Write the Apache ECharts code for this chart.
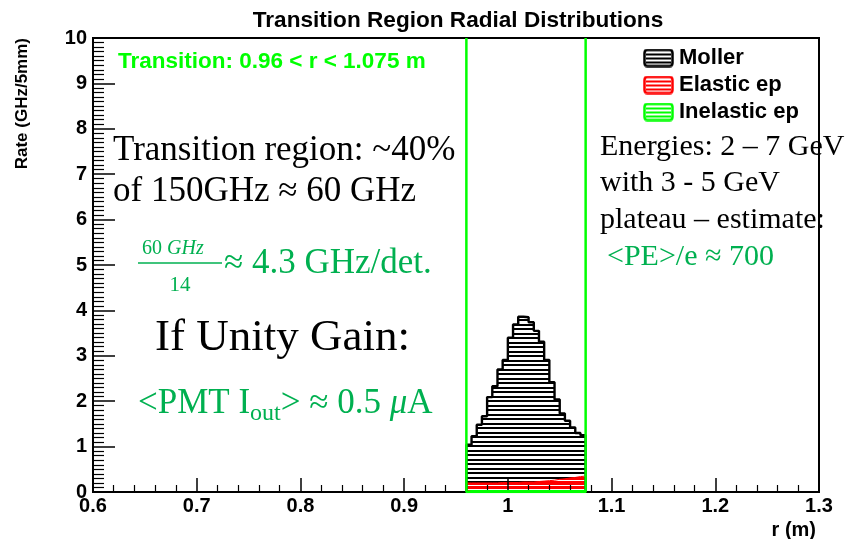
<!DOCTYPE html>
<html><head><meta charset="utf-8">
<script src="https://cdn.jsdelivr.net/npm/echarts@6/dist/echarts.min.js"></script>
<style>html,body{margin:0;padding:0;background:#fff}#c{width:850px;height:539px}</style>
</head><body><div id="c"></div>
<script>
// ---- data ----
const binEdges = [0.960,0.965,0.970,0.975,0.980,0.985,0.990,0.995,1.000,1.005,1.010,1.015,1.020,1.025,1.030,1.035,1.040,1.045,1.050,1.055,1.060,1.065,1.070,1.075];
const mollerRates = [1.04,1.23,1.48,1.67,2.09,2.33,2.70,2.91,3.40,3.69,3.86,3.85,3.74,3.55,3.31,2.91,2.42,2.04,1.73,1.57,1.42,1.30,1.25];
const elasticRates = [0.20,0.20,0.20,0.20,0.20,0.20,0.21,0.21,0.21,0.21,0.22,0.22,0.22,0.23,0.24,0.25,0.26,0.28,0.29,0.31,0.32,0.34,0.35];
const inelasticRates = [0.02,0.02,0.02,0.02,0.02,0.02,0.02,0.02,0.02,0.02,0.02,0.02,0.02,0.02,0.02,0.02,0.02,0.02,0.02,0.02,0.02,0.02,0.02];
const transitionRange = [0.96, 1.075];
const xRange = [0.6, 1.3];
const yRange = [0, 10];
const seriesNames = ['Moller', 'Elastic ep', 'Inelastic ep'];

// ---- helpers ----
function stepData(vals){
  const n = vals.length;
  const d = [[binEdges[0], 0]];
  for (let i = 0; i < n; i++) d.push([binEdges[i], vals[i]]);
  d.push([binEdges[n], vals[n-1]]);
  d.push([binEdges[n], 0]);
  return d;
}
function hatch(color){
  const c = document.createElement('canvas'); c.width = 8; c.height = 9;
  const g = c.getContext('2d'); g.fillStyle = color;
  g.fillRect(0,0,8,2); g.fillRect(0,4,8,2);
  return c;
}
function hatchSolid(color){
  const c = document.createElement('canvas'); c.width = 8; c.height = 9;
  const g = c.getContext('2d');
  g.fillStyle = '#fff'; g.fillRect(0,0,8,9);
  g.fillStyle = color; g.fillRect(0,0,8,3); g.fillRect(0,4,8,4);
  return c;
}
function legendIcon(color){
  const c = document.createElement('canvas'); c.width = 31; c.height = 19;
  const g = c.getContext('2d');
  g.fillStyle = '#fff'; g.fillRect(0,0,31,19);
  g.fillStyle = color;
  g.fillRect(3,5,25,2); g.fillRect(3,9,25,2); g.fillRect(3,13,25,2);
  g.strokeStyle = color; g.lineWidth = 2.5;
  const x=1.5,y=1.5,w=28,h=16,r=3;
  g.beginPath();
  g.moveTo(x+r,y); g.lineTo(x+w-r,y); g.quadraticCurveTo(x+w,y,x+w,y+r);
  g.lineTo(x+w,y+h-r); g.quadraticCurveTo(x+w,y+h,x+w-r,y+h);
  g.lineTo(x+r,y+h); g.quadraticCurveTo(x,y+h,x,y+h-r);
  g.lineTo(x,y+r); g.quadraticCurveTo(x,y,x+r,y); g.closePath(); g.stroke();
  return 'image://' + c.toDataURL();
}
const mctx = document.createElement('canvas').getContext('2d');
function runs(x, y, parts){
  const out = []; let cx = x;
  parts.forEach(p => {
    mctx.font = p.font;
    out.push({type:'text', x: cx, y: y + (p.dy||0), z: 1,
      style:{text:p.t, font:p.font, fill:p.fill||'#000', align:'left', textAlign:'left', verticalAlign:'middle', textVerticalAlign:'middle'}});
    cx += mctx.measureText(p.t).width;
  });
  return out;
}
function txt(t, x, y, font, fill, align){
  return {type:'text', x, y, z:1, style:{text:t, font, fill:fill||'#000', align:align||'left', textAlign:align||'left', verticalAlign:'middle', textVerticalAlign:'middle'}};
}
const SANS = '"Liberation Sans", Arial, sans-serif';
const SERIF = '"Liberation Serif", "Times New Roman", serif';
const GREEN = '#00B050';
const LIME = '#00ff00';

const graphics = [
  txt('Transition Region Radial Distributions', 458, 21, 'bold 22.6px ' + SANS, '#000', 'center'),
  {type:'text', x:22, y:38, rotation: Math.PI/2, z:1, style:{text:'Rate (GHz/5mm)', font:'bold 17px ' + SANS, fill:'#000', align:'right', textAlign:'right', verticalAlign:'middle', textVerticalAlign:'middle'}},
  txt('r (m)', 816, 530, 'bold 20px ' + SANS, '#000', 'right'),
  txt('Transition: 0.96 < r < 1.075 m', 118, 62, 'bold 22.5px ' + SANS, LIME),
  txt('Transition region: ~40%', 113, 151, '35px ' + SERIF),
  txt('of 150GHz \u2248 60 GHz', 113, 192, '35px ' + SERIF),
  ...runs(142, 249, [{t:'60 ', font:'20px ' + SERIF, fill:GREEN},{t:'GHz', font:'italic 20px ' + SERIF, fill:GREEN}]),
  {type:'line', z:1, shape:{x1:138, y1:263, x2:222, y2:263}, style:{stroke:GREEN, lineWidth:1.5}},
  txt('14', 180, 285, '21px ' + SERIF, GREEN, 'center'),
  txt('\u2248 4.3 GHz/det.', 224, 264, '35px ' + SERIF, GREEN),
  txt('If Unity Gain:', 155, 338, '45px ' + SERIF),
  ...runs(138, 404, [
    {t:'<PMT I', font:'35px ' + SERIF, fill:GREEN},
    {t:'out', font:'24px ' + SERIF, fill:GREEN, dy:10},
    {t:'> \u2248 0.5 ', font:'35px ' + SERIF, fill:GREEN},
    {t:'\u03bc', font:'italic 35px ' + SERIF, fill:GREEN},
    {t:'A', font:'35px ' + SERIF, fill:GREEN}
  ]),
  txt('Energies: 2 \u2013 7 GeV', 600, 147, '30px ' + SERIF),
  txt('with 3 - 5 GeV', 600, 183, '30px ' + SERIF),
  txt('plateau \u2013 estimate:', 600, 220, '30px ' + SERIF),
  txt('<PE>/e \u2248 700', 607, 257, '30px ' + SERIF, GREEN)
];

const chart = echarts.init(document.getElementById('c'), null, {renderer:'canvas'});
chart.setOption({
  animation: false,
  backgroundColor: '#fff',
  grid: {left: 93, right: 31, top: 38, bottom: 47, show: true, borderColor: '#000', borderWidth: 2, backgroundColor: 'transparent'},
  legend: {
    orient: 'vertical', left: 643, top: 47, padding: 0, itemWidth: 31, itemHeight: 19, itemGap: 5, selectedMode: false,
    textStyle: {fontFamily: SANS, fontWeight: 'bold', fontSize: 22, color: '#000'},
    data: [
      {name: seriesNames[0], icon: legendIcon('#000')},
      {name: seriesNames[1], icon: legendIcon('#ff0000')},
      {name: seriesNames[2], icon: legendIcon(LIME)}
    ]
  },
  xAxis: {
    type: 'value', min: xRange[0], max: xRange[1], interval: 0.1, z: 3,
    axisLine: {show: true, onZero: false, lineStyle: {color: '#000', width: 2}},
    axisTick: {show: true, inside: true, length: 14, lineStyle: {color: '#000', width: 1.5}},
    minorTick: {show: true, splitNumber: 5, length: 7, lineStyle: {color: '#000', width: 1.2}},
    splitLine: {show: false},
    axisLabel: {color: '#000', fontFamily: SANS, fontWeight: 'bold', fontSize: 20, margin: 4}
  },
  yAxis: {
    type: 'value', min: yRange[0], max: yRange[1], interval: 1, z: 3,
    axisLine: {show: true, lineStyle: {color: '#000', width: 2}},
    axisTick: {show: true, inside: true, length: 22, lineStyle: {color: '#000', width: 1.5}},
    minorTick: {show: true, splitNumber: 10, length: 11, lineStyle: {color: '#000', width: 1.2}},
    splitLine: {show: false},
    axisLabel: {color: '#000', fontFamily: SANS, fontWeight: 'bold', fontSize: 20, margin: 6}
  },
  graphic: graphics,
  series: [
    {name: seriesNames[0], type: 'line', step: 'end', symbol: 'none', z: 2, silent: true,
     data: stepData(mollerRates),
     lineStyle: {color: '#000', width: 2.4},
     itemStyle: {color: '#000'},
     areaStyle: {color: {image: hatch('#000'), repeat: 'repeat'}, opacity: 1}},
    {name: seriesNames[1], type: 'line', step: 'end', symbol: 'none', z: 2, silent: true,
     data: stepData(elasticRates),
     lineStyle: {color: '#ff0000', width: 1},
     itemStyle: {color: '#ff0000'},
     areaStyle: {color: {image: hatchSolid('#ff0000'), repeat: 'repeat'}, opacity: 1}},
    {name: seriesNames[2], type: 'line', step: 'end', symbol: 'none', z: 4, silent: true,
     data: stepData(inelasticRates),
     lineStyle: {color: LIME, width: 2},
     itemStyle: {color: LIME}},
    {name: 'transition', type: 'line', symbol: 'none', z: 5, silent: true,
     data: [[transitionRange[0], yRange[1]], [transitionRange[0], yRange[0]], [transitionRange[1], yRange[0]], [transitionRange[1], yRange[1]]],
     lineStyle: {color: LIME, width: 2.5}}
  ]
});
</script></body></html>
